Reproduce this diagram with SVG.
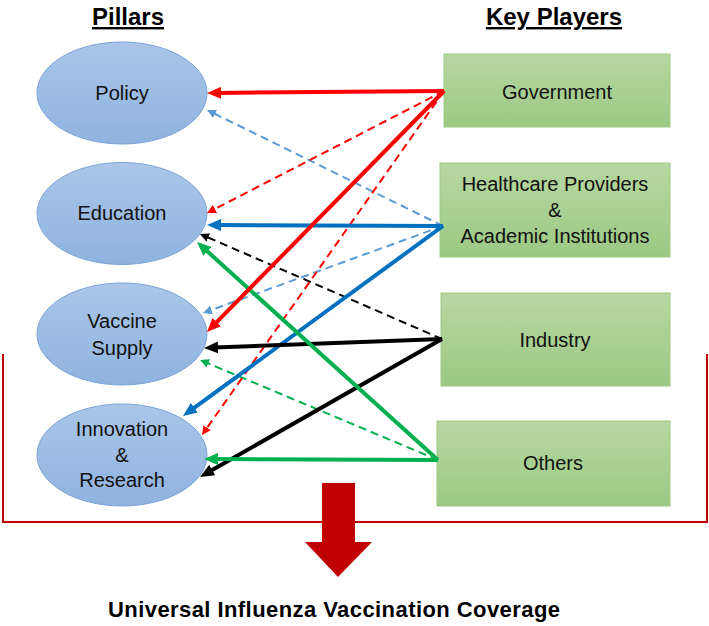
<svg xmlns="http://www.w3.org/2000/svg" width="709" height="626" viewBox="0 0 709 626">
<style>
.pill{stroke:#7aa3d6;stroke-width:1;fill:url(#gBlue)}
.play{stroke:#9ccc84;stroke-width:1;fill:url(#gGreen)}
.lbl{font-family:"Liberation Sans",Arial,sans-serif;font-size:20px;fill:#111;text-anchor:middle}
.ttl{font-family:"Liberation Sans",Arial,sans-serif;font-size:24px;font-weight:bold;fill:#000;text-anchor:middle;text-decoration:underline}
.s{fill:none;stroke-width:4}
.d{fill:none;stroke-width:2;stroke-dasharray:8,5}
</style>
<defs>
<linearGradient id="gBlue" x1="0" y1="0" x2="0" y2="1"><stop offset="0" stop-color="#aac6e9"/><stop offset="1" stop-color="#8fb3df"/></linearGradient>
<linearGradient id="gGreen" x1="0" y1="0" x2="0" y2="1"><stop offset="0" stop-color="#b7d7a2"/><stop offset="1" stop-color="#9bc983"/></linearGradient>
<marker id="mRs" markerUnits="userSpaceOnUse" markerWidth="14" markerHeight="12" refX="4" refY="6" orient="auto"><path d="M0,0 L14,6 L0,12 z" fill="#ff0000"/></marker>
<marker id="mRd" markerUnits="userSpaceOnUse" markerWidth="9" markerHeight="9" refX="2" refY="4.5" orient="auto"><path d="M0,0 L9,4.5 L0,9 z" fill="#ff0000"/></marker>
<marker id="mBs" markerUnits="userSpaceOnUse" markerWidth="14" markerHeight="12" refX="4" refY="6" orient="auto"><path d="M0,0 L14,6 L0,12 z" fill="#0070c0"/></marker>
<marker id="mLd" markerUnits="userSpaceOnUse" markerWidth="9" markerHeight="9" refX="2" refY="4.5" orient="auto"><path d="M0,0 L9,4.5 L0,9 z" fill="#5b9bd5"/></marker>
<marker id="mKs" markerUnits="userSpaceOnUse" markerWidth="14" markerHeight="12" refX="4" refY="6" orient="auto"><path d="M0,0 L14,6 L0,12 z" fill="#000"/></marker>
<marker id="mKd" markerUnits="userSpaceOnUse" markerWidth="9" markerHeight="9" refX="2" refY="4.5" orient="auto"><path d="M0,0 L9,4.5 L0,9 z" fill="#000"/></marker>
<marker id="mGs" markerUnits="userSpaceOnUse" markerWidth="14" markerHeight="12" refX="4" refY="6" orient="auto"><path d="M0,0 L14,6 L0,12 z" fill="#00b050"/></marker>
<marker id="mGd" markerUnits="userSpaceOnUse" markerWidth="9" markerHeight="9" refX="2" refY="4.5" orient="auto"><path d="M0,0 L9,4.5 L0,9 z" fill="#00b050"/></marker>
</defs>
<rect width="709" height="626" fill="#fff"/>

<text class="ttl" x="128" y="25">Pillars</text>
<text class="ttl" x="554" y="25">Key Players</text>

<g id="bracket">
<polyline points="3,354 3,522 707,522 707,354" fill="none" stroke="#c00000" stroke-width="2"/>
</g>
<g id="bigArrow">
<polygon points="322,483 355,483 355,542 372,542 338,577 305,542 322,542" fill="#c00000"/>
</g>

<g id="policy"><ellipse class="pill" cx="122" cy="93" rx="85" ry="51"/><text class="lbl" x="122" y="100">Policy</text></g>
<g id="education"><ellipse class="pill" cx="122" cy="213.5" rx="85" ry="51"/><text class="lbl" x="122" y="220">Education</text></g>
<g id="vaccineSupply"><ellipse class="pill" cx="122" cy="334" rx="85" ry="51"/><text class="lbl" x="122" y="328">Vaccine</text><text class="lbl" x="122" y="355">Supply</text></g>
<g id="innovation"><ellipse class="pill" cx="122" cy="455" rx="85" ry="51"/><text class="lbl" x="122" y="436">Innovation</text><text class="lbl" x="122" y="462">&amp;</text><text class="lbl" x="122" y="487">Research</text></g>

<g id="government"><rect class="play" x="444" y="54" width="226" height="73"/><text class="lbl" x="557" y="99">Government</text></g>
<g id="healthcare"><rect class="play" x="440" y="163" width="230" height="94"/><text class="lbl" x="555" y="191">Healthcare Providers</text><text class="lbl" x="555" y="217">&amp;</text><text class="lbl" x="555" y="243">Academic Institutions</text></g>
<g id="industry"><rect class="play" x="441" y="293" width="229" height="93"/><text class="lbl" x="555" y="347">Industry</text></g>
<g id="others"><rect class="play" x="437" y="421" width="233" height="85"/><text class="lbl" x="553" y="470">Others</text></g>

<g id="connectors">
<line class="d" stroke="#5b9bd5" x1="443" y1="226" x2="213.3" y2="113.1" marker-end="url(#mLd)"/>
<line class="d" stroke="#5b9bd5" x1="443" y1="226" x2="209.6" y2="310.6" marker-end="url(#mLd)"/>
<line class="d" stroke="#000" x1="442" y1="339" x2="206.4" y2="236.8" marker-end="url(#mKd)"/>
<line class="d" stroke="#00b050" x1="438" y1="460" x2="206.5" y2="362.7" marker-end="url(#mGd)"/>
<line class="d" stroke="#ff0000" x1="444" y1="91" x2="213.2" y2="209.8" marker-end="url(#mRd)"/>
<line class="d" stroke="#ff0000" x1="444" y1="91" x2="206" y2="429.3" marker-end="url(#mRd)"/>
<line class="s" stroke="#0070c0" x1="443" y1="226" x2="217" y2="225" marker-end="url(#mBs)"/>
<line class="s" stroke="#0070c0" x1="443" y1="226" x2="191.1" y2="410.1" marker-end="url(#mBs)"/>
<line class="s" stroke="#000" x1="442" y1="339" x2="214" y2="347.6" marker-end="url(#mKs)"/>
<line class="s" stroke="#000" x1="442" y1="339" x2="208.7" y2="472" marker-end="url(#mKs)"/>
<line class="s" stroke="#00b050" x1="438" y1="460" x2="204.4" y2="248.7" marker-end="url(#mGs)"/>
<line class="s" stroke="#00b050" x1="438" y1="460" x2="214" y2="459" marker-end="url(#mGs)"/>
<line class="s" stroke="#ff0000" x1="444" y1="91" x2="217" y2="92.9" marker-end="url(#mRs)"/>
<line class="s" stroke="#ff0000" x1="444" y1="91" x2="214" y2="324.9" marker-end="url(#mRs)"/>
</g>

<text x="334" y="617" font-family="'Liberation Sans',Arial,sans-serif" font-size="22" font-weight="bold" text-anchor="middle" textLength="452" fill="#000">Universal Influenza Vaccination Coverage</text>
</svg>
